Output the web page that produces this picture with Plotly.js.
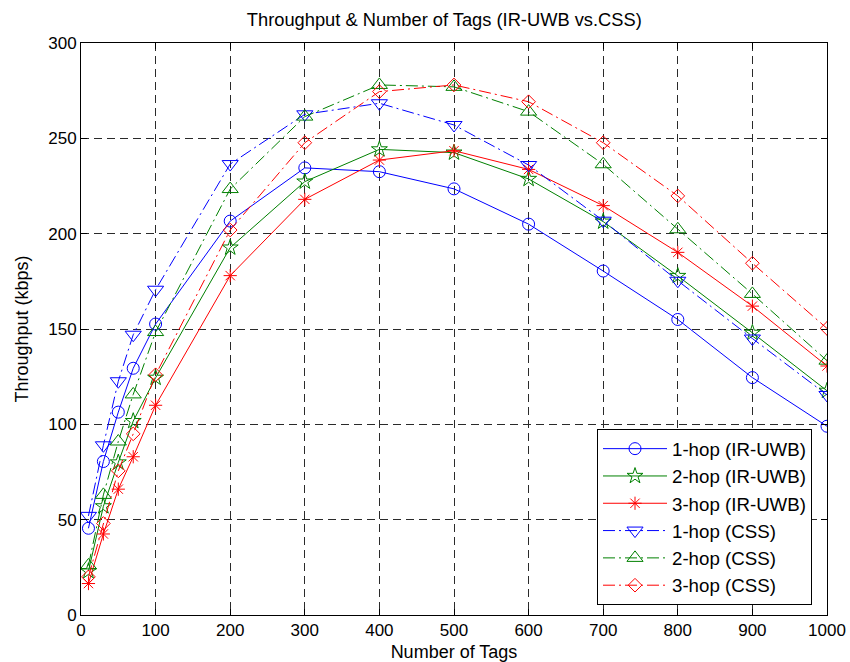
<!DOCTYPE html>
<html>
<head>
<meta charset="utf-8">
<script src="https://cdn.plot.ly/plotly-3.0.1.min.js"></script>
<style>html,body{margin:0;padding:0;background:#fff;}#chart{width:850px;height:662px;}</style>
</head>
<body>
<div id="chart"></div>
<script>
const tags = [10, 30, 50, 70, 100, 200, 300, 400, 500, 600, 700, 800, 900, 1000];
const hop1IRUWB = [45.5, 80.5, 106.4, 129.4, 152.6, 206.6, 234.5, 232.5, 223.5, 205, 180.4, 155, 124.5, 99];
const hop2IRUWB = [23, 57, 80, 101.7, 124.4, 192.7, 227.3, 244.2, 242.5, 228.7, 206.3, 177.8, 148, 117.6];
const hop3IRUWB = [16.5, 42.5, 66, 83, 110, 178, 218, 238.6, 243.5, 233.7, 214.7, 190.2, 162, 130.6];
const hop1CSS = [52, 89, 122.6, 147, 170.6, 236.5, 262.6, 268.4, 257, 236, 206.8, 175.3, 145, 115.4];
const hop2CSS = [26, 63, 91, 115.7, 148.4, 223.4, 261.4, 278, 277, 264, 236.4, 202.3, 168.4, 133.4];
const hop3CSS = [20, 48, 75.6, 95, 126, 201.9, 247.7, 274.5, 278, 269.2, 247.7, 219.8, 184.5, 150.3];
const seriesNames = ['1-hop (IR-UWB)', '2-hop (IR-UWB)', '3-hop (IR-UWB)', '1-hop (CSS)', '2-hop (CSS)', '3-hop (CSS)'];
const xTicks = [0, 100, 200, 300, 400, 500, 600, 700, 800, 900, 1000];
const yTicks = [0, 50, 100, 150, 200, 250, 300];

const BLUE = '#0000ff', GREEN = '#008000', RED = '#ff0000';
const DASHDOT = '12px,4px,2px,4px';
function tr(y, name, color, symbol, size, dash) {
  return {
    x: tags, y: y, name: name, type: 'scatter', mode: 'lines+markers',
    line: {color: color, width: 1, dash: dash},
    marker: {symbol: symbol, size: size, color: color, line: {color: color, width: 1}}
  };
}
const data = [
  tr(hop1IRUWB, seriesNames[0], BLUE, 'circle-open', 12, 'solid'),
  tr(hop2IRUWB, seriesNames[1], GREEN, 'star-open', 12, 'solid'),
  tr(hop3IRUWB, seriesNames[2], RED, 'asterisk-open', 11, 'solid'),
  tr(hop1CSS, seriesNames[3], BLUE, 'triangle-down-open', 14, DASHDOT),
  tr(hop2CSS, seriesNames[4], GREEN, 'triangle-up-open', 14, DASHDOT),
  tr(hop3CSS, seriesNames[5], RED, 'diamond-open', 10.5, DASHDOT)
];
const FONT = 'Liberation Sans, Arial, Helvetica, sans-serif';
const axisCommon = {
  showline: true, linecolor: '#000', linewidth: 1, mirror: 'ticks',
  ticks: 'inside', ticklen: 6, tickcolor: '#000', tickwidth: 1,
  showgrid: true, gridcolor: '#2a2a2a', gridwidth: 1, griddash: '8px,5px',
  zeroline: false, tickfont: {family: FONT, size: 17, color: '#000'},
  automargin: false
};
const layout = {
  width: 850, height: 662,
  margin: {l: 81, r: 23, t: 43, b: 47},
  paper_bgcolor: '#fff', plot_bgcolor: '#fff',
  font: {family: FONT, color: '#000'},
  title: {text: 'Throughput &amp; Number of Tags (IR-UWB vs.CSS)', font: {family: FONT, size: 18.3, color: '#000'},
          x: 0.487, xref: 'paper', xanchor: 'center', y: 0.97, yref: 'container', yanchor: 'middle'},
  xaxis: Object.assign({}, axisCommon, {range: [0, 1000], tickvals: xTicks, ticktext: xTicks.map(String),
    title: {text: 'Number of Tags', font: {family: FONT, size: 18, color: '#000'}, standoff: 8}}),
  yaxis: Object.assign({}, axisCommon, {range: [0, 300], tickvals: yTicks, ticktext: yTicks.map(String),
    title: {text: 'Throughput (kbps)', font: {family: FONT, size: 18, color: '#000'}, standoff: 14}}),
  showlegend: true,
  legend: {x: 0.6917, y: 0.0175, xanchor: 'left', yanchor: 'bottom', bgcolor: '#fff',
           bordercolor: '#000', borderwidth: 1, font: {family: FONT, size: 18.7, color: '#000'},
           tracegroupgap: 0, itemwidth: 64}
};
Plotly.newPlot('chart', data, layout, {displayModeBar: false, staticPlot: true});
</script>
</body>
</html>
